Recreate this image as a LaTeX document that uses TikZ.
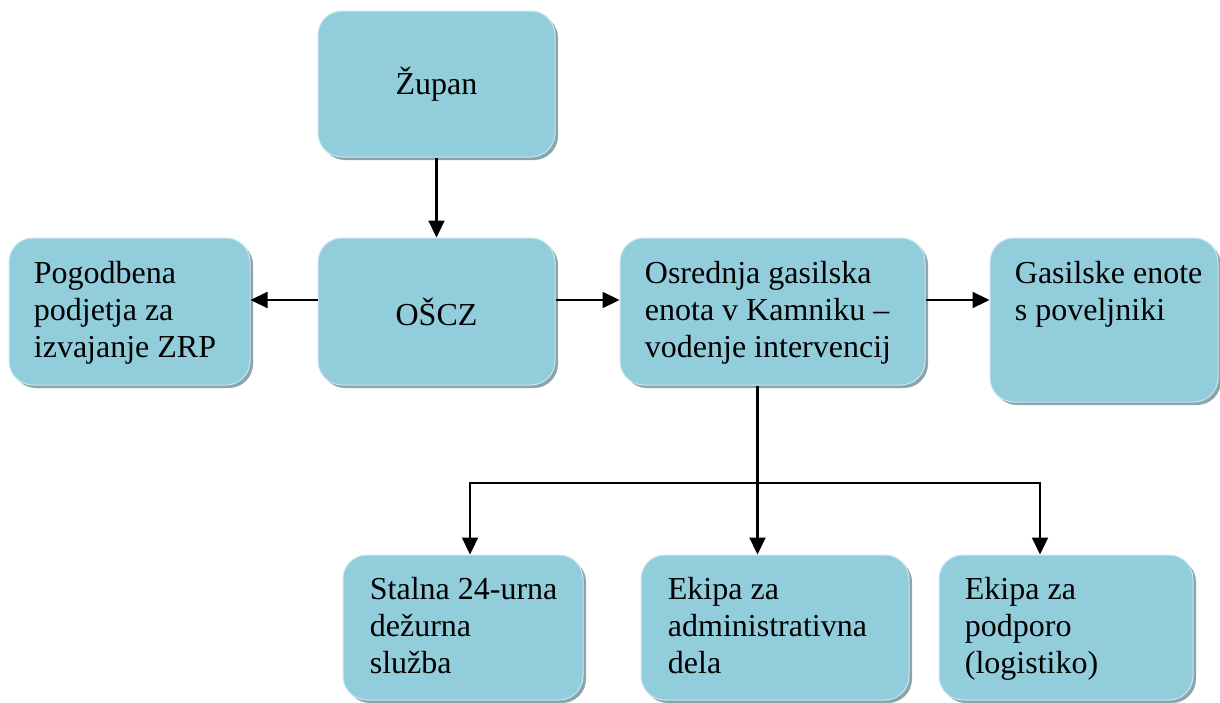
\documentclass[tikz,border=0pt]{standalone}
\usepackage{fontspec}
\setmainfont{Liberation Serif}
\usetikzlibrary{arrows.meta,shadows}
\definecolor{boxfill}{HTML}{92CDDC}
\definecolor{boxedge}{HTML}{C8E6EE}
\definecolor{shadowcol}{HTML}{8EA4AD}
\tikzset{
  box/.style={rectangle, rounded corners=12pt, fill=boxfill, draw=boxedge, line width=0.5pt,
    drop shadow={shadow xshift=1.5pt, shadow yshift=-1.5pt, fill=shadowcol, opacity=1},
    inner sep=0pt},
  txt/.style={anchor=north west, inner sep=0pt, align=left,
    font=\fontsize{16}{18.5}\selectfont, execute at begin node={\strut}},
  ctxt/.style={inner sep=0pt, font=\fontsize{16}{18.5}\selectfont},
  arr/.style={-{Triangle[length=8.5pt,width=8pt]}, line width=1.1pt},
  ln/.style={line width=1.1pt}
}
\begin{document}
\begin{tikzpicture}[x=0.5pt,y=-0.5pt]
\useasboundingbox (0,0) rectangle (1220,702);
% boxes
\node[box, minimum width=118.5pt, minimum height=73pt] (zupan) at (436.5,84) {};
\node[box, minimum width=120.5pt, minimum height=73.5pt] (pogod) at (129.5,311.5) {};
\node[box, minimum width=118.5pt, minimum height=73.5pt] (oscz) at (436.5,311.5) {};
\node[box, minimum width=152.5pt, minimum height=73.5pt] (osred) at (772.5,311.5) {};
\node[box, minimum width=114pt, minimum height=82pt] (gasil) at (1104,320) {};
\node[box, minimum width=120pt, minimum height=72.5pt] (stalna) at (463,627.5) {};
\node[box, minimum width=134pt, minimum height=72.5pt] (admin) at (775,627.5) {};
\node[box, minimum width=127pt, minimum height=72.5pt] (podp) at (1066,627.5) {};
% texts
\node[ctxt] (tzupan) at (zupan.center) {Župan};
\node[ctxt] (toscz) at (oscz.center) {OŠCZ};
\node[txt] (tpogod) at ([xshift=12.5pt,yshift=-11.5pt]pogod.north west) {Pogodbena\\podjetja za\\izvajanje ZRP};
\node[txt] (tosred) at ([xshift=12.5pt,yshift=-11.5pt]osred.north west) {Osrednja gasilska\\enota v Kamniku –\\vodenje intervencij};
\node[txt] (tgasil) at ([xshift=12.5pt,yshift=-11.5pt]gasil.north west) {Gasilske enote\\s poveljniki};
\node[txt] (tstalna) at ([xshift=13.5pt,yshift=-11pt]stalna.north west) {Stalna 24-urna\\dežurna\\služba};
\node[txt] (tadmin) at ([xshift=13.5pt,yshift=-11pt]admin.north west) {Ekipa za\\administrativna\\dela};
\node[txt] (tpodp) at ([xshift=13pt,yshift=-11pt]podp.north west) {Ekipa za\\podporo\\(logistiko)};
% helper coordinates
\coordinate (hy) at (0,300);
\coordinate (bus) at (0,483);
\coordinate (s1) at (470,0);
\coordinate (s2) at (757.5,0);
\coordinate (s3) at (1040,0);
% connectors
\draw[arr] (zupan.south) -- (oscz.north);
\draw[arr] (oscz.west |- hy) -- (pogod.east |- hy);
\draw[arr] (oscz.east |- hy) -- (osred.west |- hy);
\draw[arr] (osred.east |- hy) -- (gasil.west |- hy);
\draw[ln] (osred.south -| s2) -- (bus -| s2);
\draw[ln, line cap=rect] (bus -| s1) -- (bus -| s3);
\draw[arr] (bus -| s1) -- (stalna.north -| s1);
\draw[arr] (bus -| s2) -- (admin.north -| s2);
\draw[arr] (bus -| s3) -- (podp.north -| s3);
\end{tikzpicture}
\end{document}
